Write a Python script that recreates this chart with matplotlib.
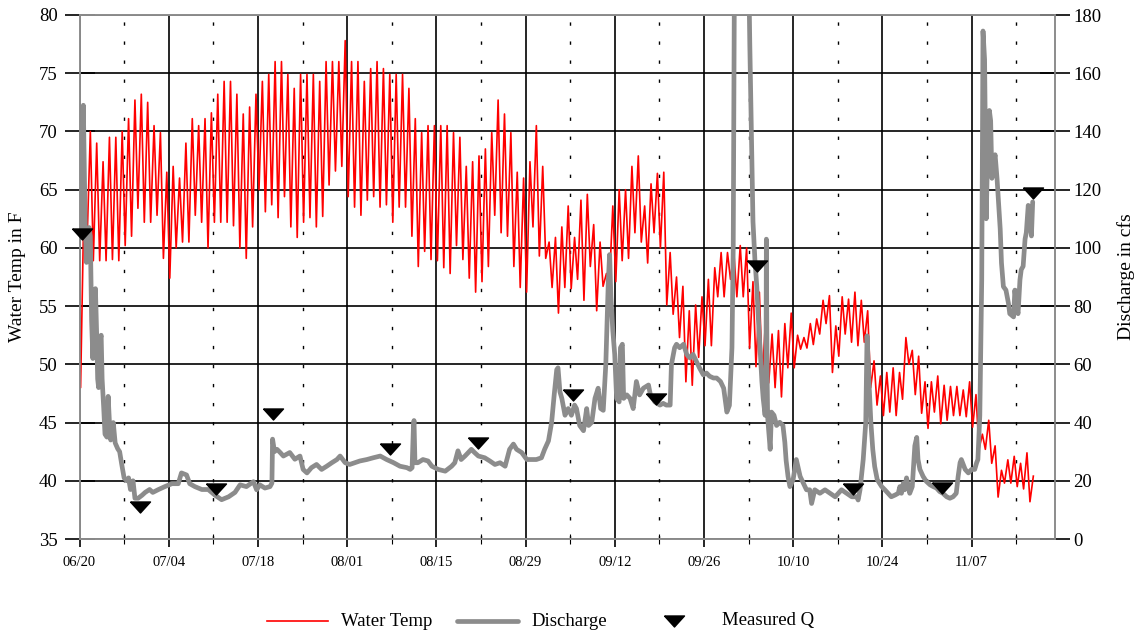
import matplotlib
matplotlib.use("Agg")
import matplotlib.pyplot as plt
from matplotlib.lines import Line2D
from matplotlib.ticker import FixedLocator
import numpy as np

plt.rcParams['font.family'] = ['Liberation Serif', 'DejaVu Serif']

# ---------------- data ----------------
# x axis = days since 06/20
tick_days = [0, 14, 28, 42, 56, 70, 84, 98, 112, 126, 140]
tick_labels = ["06/20", "07/04", "07/18", "08/01", "08/15", "08/29",
               "09/12", "09/26", "10/10", "10/24", "11/07"]
minor_days = [7, 21, 35, 49, 63, 77, 91, 105, 119, 133, 147]

temp_start = 53.2  # first logged value
# daily low (early morning) and daily high (afternoon) water temperature, F
temp_min = [48.0, 60.2, 58.9, 58.9, 58.9, 59.0, 58.9, 60.2, 61.0, 63.4,
            62.2, 62.2, 62.8, 59.1, 57.4, 60.0, 60.5, 60.5, 62.8, 62.2,
            60.0, 62.2, 62.2, 62.2, 61.9, 60.0, 59.1, 61.8, 65.0, 63.1,
            63.7, 62.6, 64.4, 61.8, 60.9, 62.2, 62.6, 61.8, 62.7, 65.4,
            66.6, 67.0, 64.4, 63.5, 62.8, 64.1, 64.4, 63.5, 63.7, 62.2,
            63.5, 63.5, 61.0, 58.4, 59.7, 59.0, 58.9, 58.3, 57.8, 60.2,
            59.0, 57.4, 56.2, 57.1, 58.4, 62.8, 61.3, 61.0, 58.4, 56.6,
            56.2, 61.8, 59.3, 59.1, 56.6, 54.4, 56.6, 56.5, 57.3, 55.5,
            58.4, 54.6, 56.7, 57.0, 57.1, 58.9, 59.1, 61.3, 60.5, 58.7,
            61.3, 60.0, 55.1, 54.3, 52.3, 48.5, 48.2, 50.6, 51.6, 51.6,
            55.8, 55.8, 57.3, 55.8, 55.8, 51.4, 49.8, 48.9, 48.4, 48.0,
            47.2, 49.7, 49.7, 51.3, 51.4, 51.7, 52.6, 53.5, 49.3, 50.7,
            52.6, 51.9, 51.6, 51.9, 48.0, 46.5, 45.6, 45.9, 45.6, 47.0,
            50.0, 47.4, 45.8, 44.5, 45.9, 44.9, 45.2, 45.6, 45.6, 45.5,
            44.6, 42.7, 42.7, 41.5, 38.6, 39.8, 39.8, 39.5, 39.3, 38.2]
temp_max = [64.0, 70.0, 69.0, 67.4, 69.5, 69.5, 70.0, 71.1, 72.7, 73.2,
            72.5, 70.5, 69.9, 66.5, 67.0, 66.0, 69.0, 71.1, 70.5, 71.1,
            71.6, 73.2, 74.3, 74.3, 73.2, 71.5, 72.1, 73.2, 74.3, 74.9,
            76.0, 76.0, 74.9, 73.7, 74.9, 74.9, 74.9, 74.3, 76.0, 76.0,
            76.0, 77.8, 76.0, 76.0, 74.3, 75.4, 76.0, 75.4, 74.9, 74.9,
            74.9, 73.7, 71.1, 69.9, 70.5, 70.5, 70.5, 70.5, 69.9, 69.5,
            67.0, 67.4, 67.9, 68.5, 69.9, 72.7, 71.5, 69.9, 66.5, 66.0,
            67.4, 70.5, 67.0, 60.5, 60.9, 61.8, 63.6, 60.9, 64.1, 64.6,
            62.0, 60.5, 57.8, 63.6, 65.0, 65.0, 67.0, 67.9, 63.6, 65.5,
            66.4, 66.5, 59.6, 57.5, 56.7, 54.6, 55.1, 55.8, 57.3, 58.3,
            59.6, 59.6, 59.6, 60.2, 60.0, 57.1, 56.2, 54.1, 52.6, 52.9,
            53.5, 54.4, 52.5, 52.3, 53.5, 53.9, 55.5, 55.9, 53.3, 55.8,
            55.6, 56.2, 55.5, 54.6, 50.3, 49.0, 49.3, 49.7, 49.3, 52.3,
            51.2, 50.7, 48.5, 48.5, 49.0, 48.2, 48.1, 48.1, 47.8, 48.5,
            47.4, 44.0, 45.2, 43.0, 40.9, 41.8, 42.1, 41.5, 42.4, 40.4]

# discharge, cfs (day, value)
q_days = [0.2, 0.45, 0.6, 0.75, 0.9, 1.1, 1.3, 1.5, 1.7, 1.9, 2.1, 2.3, 2.5, 2.7,
          2.85, 3.0, 3.2, 3.4, 3.55, 3.8, 4.0, 4.3, 4.5, 4.7, 4.9, 5.3, 5.6, 6.0,
          6.3, 6.6, 7.0, 7.4, 7.7, 8.0, 8.4, 8.7, 9.2, 9.8, 10.3, 11.0, 11.5,
          12.4, 13.4, 14.5, 15.5, 16.0, 16.8, 17.3, 18.1, 19.2, 20.2, 21.3, 22.3,
          23.4, 24.4, 25.2, 26.2, 27.3, 27.8, 28.3, 29.1, 29.9, 30.2, 30.3, 30.6,
          31.0, 31.5, 32.0, 33.0, 33.8, 34.6, 35.1, 35.7, 36.4, 37.2, 38.0, 38.8,
          39.6, 40.4, 40.9, 41.7, 42.4, 43.2, 44.0, 45.1, 46.1, 47.2, 48.2, 49.3,
          50.3, 51.4, 51.9, 52.2, 52.4, 52.5, 52.65, 53.1, 53.9, 54.7, 55.3, 56.3,
          57.4, 58.4, 58.9, 59.4, 59.9, 60.5, 61.5, 62.0, 62.6, 63.6, 64.4, 65.2,
          66.0, 66.8, 67.5, 68.1, 68.6, 69.4, 70.2, 71.0, 71.7, 72.5, 73.0, 73.6,
          74.1, 74.5, 74.9, 75.1, 75.4, 75.7, 76.2, 76.7, 77.2, 77.7, 78.0, 78.5,
          79.1, 79.6, 79.9, 80.4, 80.9, 81.4, 81.8, 82.2, 82.6, 83.0, 83.2, 83.4,
          83.7, 84.0, 84.3, 84.7, 84.9, 85.2, 85.4, 85.9, 86.4, 86.9, 87.4, 87.9,
          88.5, 89.3, 89.6, 90.3, 91.1, 91.6, 92.1, 92.7, 92.9, 93.4, 93.7, 94.2,
          94.8, 95.3, 95.8, 96.3, 96.8, 97.3, 97.9, 98.4, 98.9, 99.5, 100.0,
          100.6, 101.1, 101.6, 102.0, 102.4, 102.6, 102.8, 103.5, 104.5, 105.0,
          105.2, 105.5, 105.7, 106.0, 106.3, 106.5, 106.8, 107.1, 107.3, 107.6,
          107.75, 107.8, 107.9, 108.0, 108.1, 108.4, 108.6, 109.0, 109.4, 109.9,
          110.4, 110.7, 110.9, 111.2, 111.5, 112.0, 112.5, 113.1, 113.6, 114.1,
          114.6, 114.9, 115.4, 116.2, 117.0, 117.8, 118.6, 119.6, 120.4, 121.2,
          122.0, 122.2, 122.5, 123.0, 123.4, 123.6, 123.9, 124.2, 124.5, 124.8,
          125.2, 125.9, 126.4, 126.9, 127.4, 128.0, 128.5, 128.75, 129.0, 129.3,
          129.5, 129.8, 130.3, 130.7, 131.1, 131.4, 131.6, 131.9, 132.4, 132.9,
          133.5, 134.0, 134.5, 135.0, 135.5, 136.1, 136.6, 137.1, 137.6, 137.9,
          138.2, 138.4, 139.0, 139.5, 140.0, 140.5, 140.8, 141.0, 141.3, 141.6,
          141.7, 141.8, 142.05, 142.2, 142.3, 142.5, 142.8, 143.0, 143.2, 143.4,
          143.7, 144.0, 144.2, 144.5, 144.7, 145.0, 145.4, 145.8, 146.0, 146.6,
          146.8, 147.1, 147.3, 147.6, 147.8, 148.1, 148.4, 148.6, 148.9, 149.1,
          149.4, 149.6]
q_cfs = [105, 140, 149, 128, 107, 95, 100, 107, 104, 75, 62, 80, 86, 70,
         55, 52, 68, 70, 55, 45, 36, 35, 49, 40, 34, 40, 33, 31,
         30, 26, 21, 20, 21, 17, 20, 14, 14, 15, 16, 17, 16,
         17, 18, 19, 19, 22.7, 22, 19, 18, 17, 17, 15, 13.5,
         14.5, 16, 18.6, 18, 19.7, 16.9, 18.6, 17.5, 18, 19.2, 34.3, 30,
         30.8, 29.7, 28.5, 29.7, 27.4, 28.5, 23.9, 22.7, 24.5, 25.6, 23.9, 25.0,
         26.2, 27.3, 28.5, 26.2, 25.6, 26.2, 26.8, 27.3, 27.9, 28.5, 27.3, 26.2,
         25.0, 24.5, 23.9, 24.5, 38, 40.7, 26.2, 26.2, 27.3, 26.8, 25.0, 23.9,
         23.3, 25.0, 26.2, 30.3, 27.3, 28.5, 30.8, 29.7, 28.5, 27.9, 26.8, 25.6,
         26.2, 25.0, 30.8, 32.6, 30.8, 29.7, 27.3, 27.3, 27.3, 27.9, 30.8, 33.7,
         40.1, 49.5, 58.2, 58.8, 50.6, 48.3, 42.5, 44.8, 42.5, 46.0, 44.8, 39.0,
         37.2, 44.8, 39.0, 40.1, 48.3, 51.8, 44.8, 44.2, 59.9, 89.0, 97.7, 83.2,
         71.6, 63.4, 48.3, 47.1, 65.7, 66.9, 48.3, 49.5, 48.3, 44.8, 54.1, 49.5,
         51.8, 52.9, 49.5, 47.1, 46.0, 46.6, 46.0, 46.0, 59.9, 65.7, 66.9, 65.7,
         66.9, 63.4, 62.2, 63.4, 61.1, 58.8, 56.4, 57.0, 55.9, 55.3, 55.3,
         54.1, 51.8, 43.6, 45.9, 65.7, 100.6, 200, 260, 260, 200,
         170, 133, 109, 96, 86.7, 77.4, 65.7, 54.1, 48.3, 42.5,
         60, 103, 60, 42, 39.0, 30.8, 43.6, 42.5, 39.0, 40.1,
         39.0, 33.2, 27, 21.5, 18.0, 20.4, 27.3, 21.5, 19.2, 16.9,
         16.9, 12.2, 16.9, 15.7, 16.9, 15.7, 14.5, 16.9, 15.7, 14.5,
         14.5, 13.4, 16.9, 27.3, 40.1, 69.8, 54.1, 40.1, 30.8, 24.9,
         20.4, 18.0, 16.9, 15.7, 14.5, 15.1, 15.7, 18.0, 15.7, 19.2,
         16.9, 21.0, 15.7, 18.0, 32.0, 34.9, 27.3, 23.9, 21.5, 19.8,
         18.6, 18.0, 17.5, 16.3, 15.7, 14.5, 14.0, 14.5, 15.7, 21.5,
         26.2, 27.3, 23.9, 22.7, 23.9, 23.9, 26.2, 27.3, 42.5, 89,
         135.6, 174.5, 164.7, 129.7, 110, 129.7, 147.2, 143.7, 123.9, 128.6,
         132, 123.9, 117, 106.5, 94.8, 86.7, 85.5, 80.9, 77.4, 76.3,
         85.5, 79.7, 77.4, 89, 92.5, 93.7, 103, 105.3, 114.6, 112,
         104.1, 115.8]

# measured discharge
meas_days = [0.34, 9.5, 21.5, 30.3, 48.7, 62.5, 77.5, 90.5, 106.3, 121.4, 135.4, 149.6]
meas_cfs = [104.7, 11.1, 17.1, 43.1, 30.8, 32.9, 49.5, 48.1, 93.7, 17.1, 17.5, 118.7]

temp_ticks = [35, 40, 45, 50, 55, 60, 65, 70, 75, 80]
q_ticks = [0, 20, 40, 60, 80, 100, 120, 140, 160, 180]

# ---------------- build temperature series ----------------
t_days = [0.0]
t_vals = [temp_start]
for d, (lo, hi) in enumerate(zip(temp_min, temp_max)):
    t_days += [d + 0.17, d + 0.7]
    t_vals += [lo, hi]

# ---------------- figure ----------------
W, H = 1139, 634
fig = plt.figure(figsize=(W / 100, H / 100), dpi=100)
L, R, T, B = 79.5, 1055, 15, 539
ax = fig.add_axes([L / W, 1 - B / H, (R - L) / W, (B - T) / H])
ax2 = ax.twinx()

SPINE = '#8c8c8c'
RED = '#ff0000'
GRAY = '#8c8c8c'

ax.set_xlim(0, 153.1)
ax.set_ylim(35, 80)
ax2.set_ylim(0, 180)

ax.plot(t_days, t_vals, color=RED, lw=1.2, solid_joinstyle='round', zorder=3)
ax2.plot(q_days, q_cfs, color=GRAY, lw=3.4, solid_joinstyle='round',
         solid_capstyle='round', zorder=3)

tri = [(-1, 0.55), (1, 0.55), (0, -0.55), (-1, 0.55)]
ax2.plot(meas_days, meas_cfs, linestyle='none', marker=tri, ms=14.4,
         color='black', zorder=4, clip_on=False)

# ticks and grid
ax.xaxis.set_major_locator(FixedLocator(tick_days))
ax.xaxis.set_minor_locator(FixedLocator(minor_days))
ax.set_xticklabels(tick_labels)
ax.set_yticks(temp_ticks)
ax2.set_yticks(q_ticks)

ax.grid(True, which='major', axis='both', color='black', lw=1.2)
ax.grid(True, which='minor', axis='x', color='black', lw=1.0,
        linestyle=(0, (2.4, 11.3)))
ax.set_axisbelow(True)

ax.tick_params(axis='x', which='major', direction='out', length=6, width=1.2,
               color='black', pad=6.5, labelsize=10.5)
ax.tick_params(axis='x', which='minor', direction='inout', length=7, width=0.8,
               color='black')
ax.tick_params(axis='y', which='major', direction='inout', length=21.6, width=1.2,
               color='black', pad=5, labelsize=13.5, right=False)
ax2.tick_params(axis='y', which='major', direction='inout', length=21.6, width=1.2,
                color='black', pad=2.5, labelsize=13.5)

for a in (ax, ax2):
    for s in a.spines.values():
        s.set_color(SPINE)
        s.set_linewidth(1.2)

# axis titles
fig.text(18 / W, 1 - 277 / H, 'Water Temp in F', fontsize=14, rotation=90,
         ha='center', va='center')
fig.text(1126 / W, 1 - 277 / H, 'Discharge in cfs', fontsize=14, rotation=90,
         ha='center', va='center')

# legend (drawn manually, bottom centre)
ly = 1 - 621 / H
fig.add_artist(Line2D([267 / W, 328 / W], [ly, ly], color=RED, lw=1.2,
                      transform=fig.transFigure))
fig.text(341 / W, ly, 'Water Temp', fontsize=13.5, va='center', ha='left')
fig.add_artist(Line2D([457 / W, 518 / W], [ly, ly], color=GRAY, lw=3.4,
                      solid_capstyle='round', transform=fig.transFigure))
fig.text(531 / W, ly, 'Discharge', fontsize=13.5, va='center', ha='left')
fig.add_artist(Line2D([674 / W], [ly], linestyle='none', marker=tri, ms=14.4,
                      color='black', transform=fig.transFigure))
fig.text(722 / W, ly, 'Measured Q', fontsize=13.5, va='center', ha='left')

fig.savefig('out.png', dpi=100)
